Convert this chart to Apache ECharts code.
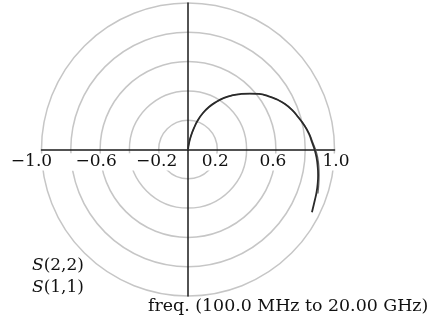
<!DOCTYPE html>
<html>
<head>
<meta charset="utf-8">
<script src="https://cdn.jsdelivr.net/npm/echarts@6/dist/echarts.min.js"></script>
<style>html,body{margin:0;padding:0;background:#fff;}#c{width:438px;height:320px;}</style>
</head>
<body>
<div id="c"></div>
<script>
// Tick labels on the real axis
var tickValues = [-1.0, -0.6, -0.2, 0.2, 0.6, 1.0];
var tickLabels = ['\u22121.0', '\u22120.6', '\u22120.2', '0.2', '0.6', '1.0'];
// Series names
var seriesNames = ['S(2,2)', 'S(1,1)'];
// S(1,1) reflection coefficient [real, imag]
var s11 = [
  [0.000, 0.000], [0.007, 0.044], [0.020, 0.092], [0.041, 0.147], [0.068, 0.201],
  [0.102, 0.249], [0.143, 0.290], [0.191, 0.324], [0.246, 0.352], [0.300, 0.369],
  [0.362, 0.379], [0.423, 0.382], [0.485, 0.379], [0.546, 0.365], [0.608, 0.341],
  [0.662, 0.311], [0.710, 0.270], [0.751, 0.222], [0.792, 0.167], [0.826, 0.106],
  [0.846, 0.051], [0.865, -0.003], [0.878, -0.058], [0.885, -0.113], [0.888, -0.174],
  [0.885, -0.235], [0.878, -0.290], [0.866, -0.345], [0.853, -0.399], [0.846, -0.428]
];
// S(2,2) reflection coefficient [real, imag]
var s22 = [
  [0.000, 0.000], [0.007, 0.044], [0.020, 0.092], [0.041, 0.147], [0.068, 0.201],
  [0.102, 0.249], [0.143, 0.290], [0.191, 0.324], [0.246, 0.352], [0.300, 0.369],
  [0.362, 0.379], [0.423, 0.382], [0.485, 0.379], [0.546, 0.365], [0.608, 0.341],
  [0.662, 0.311], [0.710, 0.270], [0.752, 0.222], [0.794, 0.167], [0.829, 0.106],
  [0.851, 0.051], [0.872, -0.003], [0.886, -0.058], [0.893, -0.113], [0.895, -0.174],
  [0.893, -0.235], [0.887, -0.300]
];
var freqText = 'freq. (100.0 MHz to 20.00 GHz)';

var FONT = 'DejaVu Serif';
// label horizontal nudges (px, negative = left), styling only
var labelNudge = [-10, -4, -2, -2, -3, 1.5];
var rich = {};
labelNudge.forEach(function (d, i) {
  var pl = 7, pr = 7;
  if (d < 0) pr += -2 * d; else pl += 2 * d;
  rich['k' + i] = {
    fontFamily: FONT, fontSize: 17, color: '#111', backgroundColor: '#fff',
    padding: [0, pr, 0, pl]
  };
});

var chart = echarts.init(document.getElementById('c'), null, {renderer: 'canvas'});
chart.setOption({
  animation: false,
  backgroundColor: '#fff',
  title: {
    text: freqText, left: 148, top: 298, padding: 0,
    textStyle: {fontFamily: FONT, fontSize: 17.4, fontWeight: 'normal', color: '#111'}
  },
  legend: {
    data: seriesNames, orient: 'vertical', left: 22, top: 252, itemGap: 5,
    itemWidth: 0, itemHeight: 0, icon: 'none',
    formatter: function (n) { return '{i|S}{n|' + n.slice(1) + '}'; },
    textStyle: {
      fontFamily: FONT, fontSize: 17, color: '#111',
      rich: {
        i: {fontFamily: FONT, fontSize: 17, fontStyle: 'italic', color: '#111'},
        n: {fontFamily: FONT, fontSize: 17, color: '#111'}
      }
    }
  },
  polar: {center: [188, 149.5], radius: 146.5},
  angleAxis: {
    show: true, z: 1, axisLine: {show: false}, axisTick: {show: false},
    axisLabel: {show: false}, splitLine: {show: false}
  },
  radiusAxis: {
    min: 0, max: 1, interval: 0.2, z: 1,
    axisLine: {show: false}, axisTick: {show: false}, axisLabel: {show: false},
    splitLine: {show: true, lineStyle: {color: '#c6c6c6', width: 1.5}}
  },
  grid: [
    {left: 41.5, top: 3, width: 293, height: 293, containLabel: false},
    {left: 41.5, top: 3, width: 293, height: 146.5, containLabel: false}
  ],
  xAxis: [
    {
      type: 'value', gridIndex: 0, min: -1, max: 1, interval: 0.2, show: false
    },
    {
      type: 'value', gridIndex: 1, min: -1, max: 1, interval: 0.2, z: 3, position: 'bottom',
      axisLine: {onZero: false, lineStyle: {color: '#1a1a1a', width: 1.5}},
      axisTick: {show: false}, splitLine: {show: false},
      axisLabel: {
        margin: 4, fontFamily: FONT, fontSize: 17, color: '#111',
        showMinLabel: true, showMaxLabel: true, hideOverlap: false,
        rich: rich,
        formatter: function (v) {
          for (var i = 0; i < tickValues.length; i++) {
            if (Math.abs(v - tickValues[i]) < 1e-6) return '{k' + i + '|' + tickLabels[i] + '}';
          }
          return '';
        }
      }
    }
  ],
  yAxis: [
    {
      type: 'value', gridIndex: 0, min: -1, max: 1, interval: 0.2, z: 4,
      axisLine: {onZero: true, lineStyle: {color: '#1a1a1a', width: 1.5}},
      axisTick: {show: false}, splitLine: {show: false}, axisLabel: {show: false}
    },
    {
      type: 'value', gridIndex: 1, min: 0, max: 1, show: false
    }
  ],
  series: [
    {
      name: seriesNames[0], type: 'line', data: s22, smooth: true, symbol: 'none', z: 5,
      xAxisIndex: 0, yAxisIndex: 0,
      lineStyle: {color: '#666', width: 1.2}
    },
    {
      name: seriesNames[1], type: 'line', data: s11, smooth: true, symbol: 'none', z: 6,
      xAxisIndex: 0, yAxisIndex: 0,
      lineStyle: {color: '#2a2a2a', width: 1.8}
    }
  ]
});
</script>
</body>
</html>
